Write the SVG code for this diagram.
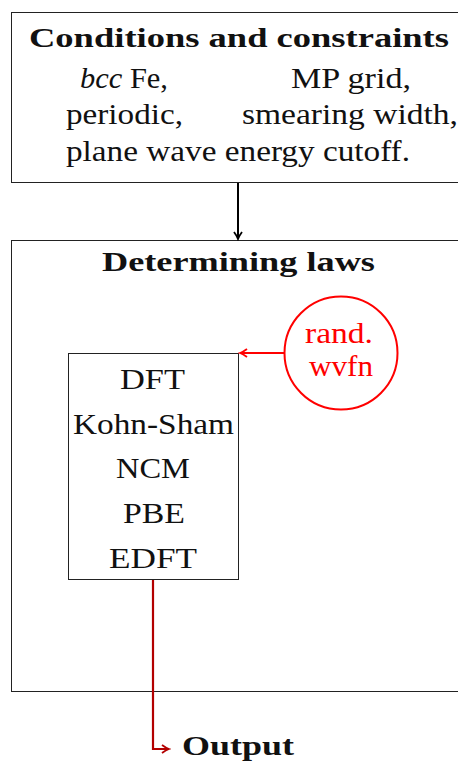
<svg xmlns="http://www.w3.org/2000/svg" width="458" height="762" viewBox="0 0 458 762">
<defs>
<style>
text{font-family:"Liberation Serif","DejaVu Serif",serif;font-size:30px;fill:#111}
.b{font-weight:bold;font-size:28px}
.red{fill:#ff0000}
.box{fill:none;stroke:#222;stroke-width:1}
</style>
<marker id="ak" markerWidth="10" markerHeight="10" refX="8" refY="5" orient="auto" markerUnits="userSpaceOnUse"><path d="M1,1 Q5,4 8,5 Q5,6 1,9" fill="none" stroke="#000" stroke-width="1.8"/></marker>
<marker id="ar" markerWidth="10" markerHeight="10" refX="8" refY="5" orient="auto" markerUnits="userSpaceOnUse"><path d="M1,1 Q5,4 8,5 Q5,6 1,9" fill="none" stroke="#ff0000" stroke-width="1.8"/></marker>
<marker id="ad" markerWidth="10" markerHeight="10" refX="8" refY="5" orient="auto" markerUnits="userSpaceOnUse"><path d="M1,1 Q5,4 8,5 Q5,6 1,9" fill="none" stroke="#b30000" stroke-width="1.8"/></marker>
</defs>
<g id="conditions">
<rect class="box" x="11.5" y="12.5" width="460" height="170"/>
<text class="b" x="29" y="47" textLength="420" lengthAdjust="spacingAndGlyphs">Conditions and constraints</text>
<text x="80" y="88" textLength="88" lengthAdjust="spacingAndGlyphs"><tspan font-style="italic">bcc</tspan> Fe,</text>
<text x="291" y="88" textLength="120" lengthAdjust="spacingAndGlyphs">MP grid,</text>
<text x="66" y="124" textLength="117" lengthAdjust="spacingAndGlyphs">periodic,</text>
<text x="242" y="124" textLength="216" lengthAdjust="spacingAndGlyphs">smearing width,</text>
<text x="66" y="161" textLength="344" lengthAdjust="spacingAndGlyphs">plane wave energy cutoff.</text>
</g>
<g id="laws">
<rect class="box" x="11.5" y="240.5" width="460" height="451"/>
<text class="b" x="102" y="271" textLength="273" lengthAdjust="spacingAndGlyphs">Determining laws</text>
</g>
<g id="methods">
<rect class="box" x="68.5" y="353.5" width="170" height="226"/>
<text x="120" y="389" textLength="65" lengthAdjust="spacingAndGlyphs">DFT</text>
<text x="73" y="434" textLength="161" lengthAdjust="spacingAndGlyphs">Kohn-Sham</text>
<text x="116" y="478" textLength="74" lengthAdjust="spacingAndGlyphs">NCM</text>
<text x="123" y="523" textLength="62" lengthAdjust="spacingAndGlyphs">PBE</text>
<text x="109" y="568" textLength="88" lengthAdjust="spacingAndGlyphs">EDFT</text>
</g>
<g id="wvfn">
<circle cx="341" cy="353" r="56.5" fill="none" stroke="#ff0000" stroke-width="2"/>
<text class="red" x="305" y="343" textLength="68" lengthAdjust="spacingAndGlyphs">rand.</text>
<text class="red" x="309" y="376" textLength="64" lengthAdjust="spacingAndGlyphs">wvfn</text>
</g>
<g id="output">
<text class="b" x="182" y="755" textLength="112" lengthAdjust="spacingAndGlyphs">Output</text>
</g>
<g id="connectors" fill="none">
<path d="M238,183 V239" stroke="#000" stroke-width="2" marker-end="url(#ak)"/>
<path d="M284,353 H240" stroke="#ff0000" stroke-width="2.2" marker-end="url(#ar)"/>
<path d="M153,580 V749 H169" stroke="#b30000" stroke-width="2.2" marker-end="url(#ad)"/>
</g>
</svg>
